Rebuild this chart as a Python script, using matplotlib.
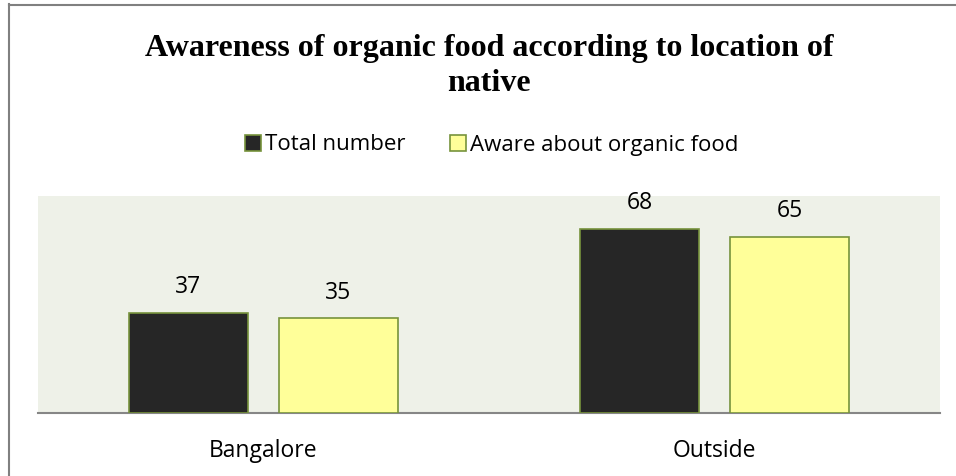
import numpy as np
import matplotlib.pyplot as plt
from matplotlib.lines import Line2D
from matplotlib.patches import Patch

# chart data
categories = ['Bangalore', 'Outside']
series_names = ['Total number', 'Aware about organic food']
total_number = [37, 68]
aware = [35, 65]

W, H = 956, 476
fig = plt.figure(figsize=(W / 100, H / 100), dpi=100)
fig.patch.set_facecolor('white')

# plot area in pixel coords -> figure fractions
left, right, top, bottom = 38, 940, 196, 413
ax = fig.add_axes([left / W, 1 - bottom / H, (right - left) / W, (bottom - top) / H])
ax.set_facecolor('#eef1e8')

x = np.arange(len(categories))
width = 0.266
offset = 0.1663
edge = '#77933c'
b1 = ax.bar(x - offset, total_number, width, color='#262626', edgecolor=edge, linewidth=1.2, zorder=3)
b2 = ax.bar(x + offset, aware, width, color='#ffff99', edgecolor=edge, linewidth=1.2, zorder=3)

label_font = dict(family='Open Sans', fontsize=16.5)
for bars, vals in ((b1, total_number), (b2, aware)):
    for rect, v in zip(bars, vals):
        ax.annotate(str(v), (rect.get_x() + rect.get_width() / 2, v),
                    xytext=(0, 14), textcoords='offset points',
                    ha='center', va='baseline', **label_font)

ax.set_xlim(-0.5, len(categories) - 0.5)
ax.set_ylim(0, 80)
ax.set_yticks([])
ax.set_xticks(x)
ax.set_xticklabels(categories, **label_font)
ax.tick_params(axis='x', length=0, pad=19)
for s in ('top', 'right', 'left'):
    ax.spines[s].set_visible(False)
ax.spines['bottom'].set_color('#868686')
ax.spines['bottom'].set_linewidth(1.5)

# title
fig.text(489 / W, 1 - 66 / H, 'Awareness of organic food according to location of\nnative',
         ha='center', va='center', family='Liberation Serif', fontweight='bold',
         fontsize=23, linespacing=1.28)

# legend
handles = [Patch(facecolor='#262626', edgecolor=edge, linewidth=1.2),
           Patch(facecolor='#ffff99', edgecolor=edge, linewidth=1.2)]
fig.legend(handles, series_names, loc='center', bbox_to_anchor=(492 / W, 1 - 145 / H),
           ncol=2, frameon=False, prop=dict(family='Open Sans', size=16),
           handlelength=0.7, handleheight=0.7, handletextpad=0.2, columnspacing=2.0)

# outer border (left and top)
fig.add_artist(Line2D([9 / W, 9 / W], [0, 1 - 4 / H], color='#808080', linewidth=1.5))
fig.add_artist(Line2D([9 / W, 1], [1 - 5 / H, 1 - 5 / H], color='#808080', linewidth=1.5))

fig.savefig('out.png', dpi=100)
